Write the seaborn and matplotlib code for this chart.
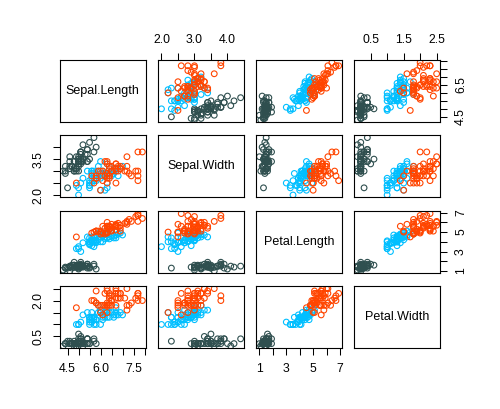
import numpy as np
import pandas as pd
import matplotlib
matplotlib.use('Agg')
import matplotlib.pyplot as plt
import seaborn as sns

# iris measurements, rows 1-150 (setosa, versicolor, virginica)
sepal_length = [5.1, 4.9, 4.7, 4.6, 5.0, 5.4, 4.6, 5.0, 4.4, 4.9, 5.4, 4.8, 4.8, 4.3, 5.8, 5.7, 5.4, 5.1, 5.7, 5.1,
                5.4, 5.1, 4.6, 5.1, 4.8, 5.0, 5.0, 5.2, 5.2, 4.7, 4.8, 5.4, 5.2, 5.5, 4.9, 5.0, 5.5, 4.9, 4.4, 5.1,
                5.0, 4.5, 4.4, 5.0, 5.1, 4.8, 5.1, 4.6, 5.3, 5.0,
                7.0, 6.4, 6.9, 5.5, 6.5, 5.7, 6.3, 4.9, 6.6, 5.2, 5.0, 5.9, 6.0, 6.1, 5.6, 6.7, 5.6, 5.8, 6.2, 5.6,
                5.9, 6.1, 6.3, 6.1, 6.4, 6.6, 6.8, 6.7, 6.0, 5.7, 5.5, 5.5, 5.8, 6.0, 5.4, 6.0, 6.7, 6.3, 5.6, 5.5,
                5.5, 6.1, 5.8, 5.0, 5.6, 5.7, 5.7, 6.2, 5.1, 5.7,
                6.3, 5.8, 7.1, 6.3, 6.5, 7.6, 4.9, 7.3, 6.7, 7.2, 6.5, 6.4, 6.8, 5.7, 5.8, 6.4, 6.5, 7.7, 7.7, 6.0,
                6.9, 5.6, 7.7, 6.3, 6.7, 7.2, 6.2, 6.1, 6.4, 7.2, 7.4, 7.9, 6.4, 6.3, 6.1, 7.7, 6.3, 6.4, 6.0, 6.9,
                6.7, 6.9, 5.8, 6.8, 6.7, 6.7, 6.3, 6.5, 6.2, 5.9]
sepal_width = [3.5, 3.0, 3.2, 3.1, 3.6, 3.9, 3.4, 3.4, 2.9, 3.1, 3.7, 3.4, 3.0, 3.0, 4.0, 4.4, 3.9, 3.5, 3.8, 3.8,
               3.4, 3.7, 3.6, 3.3, 3.4, 3.0, 3.4, 3.5, 3.4, 3.2, 3.1, 3.4, 4.1, 4.2, 3.1, 3.2, 3.5, 3.6, 3.0, 3.4,
               3.5, 2.3, 3.2, 3.5, 3.8, 3.0, 3.8, 3.2, 3.7, 3.3,
               3.2, 3.2, 3.1, 2.3, 2.8, 2.8, 3.3, 2.4, 2.9, 2.7, 2.0, 3.0, 2.2, 2.9, 2.9, 3.1, 3.0, 2.7, 2.2, 2.5,
               3.2, 2.8, 2.5, 2.8, 2.9, 3.0, 2.8, 3.0, 2.9, 2.6, 2.4, 2.4, 2.7, 2.7, 3.0, 3.4, 3.1, 2.3, 3.0, 2.5,
               2.6, 3.0, 2.6, 2.3, 2.7, 3.0, 2.9, 2.9, 2.5, 2.8,
               3.3, 2.7, 3.0, 2.9, 3.0, 3.0, 2.5, 2.9, 2.5, 3.6, 3.2, 2.7, 3.0, 2.5, 2.8, 3.2, 3.0, 3.8, 2.6, 2.2,
               3.2, 2.8, 2.8, 2.7, 3.3, 3.2, 2.8, 3.0, 2.8, 3.0, 2.8, 3.8, 2.8, 2.8, 2.6, 3.0, 3.4, 3.1, 3.0, 3.1,
               3.1, 3.1, 2.7, 3.2, 3.3, 3.0, 2.5, 3.0, 3.4, 3.0]
petal_length = [1.4, 1.4, 1.3, 1.5, 1.4, 1.7, 1.4, 1.5, 1.4, 1.5, 1.5, 1.6, 1.4, 1.1, 1.2, 1.5, 1.3, 1.4, 1.7, 1.5,
                1.7, 1.5, 1.0, 1.7, 1.9, 1.6, 1.6, 1.5, 1.4, 1.6, 1.6, 1.5, 1.5, 1.4, 1.5, 1.2, 1.3, 1.4, 1.3, 1.5,
                1.3, 1.3, 1.3, 1.6, 1.9, 1.4, 1.6, 1.4, 1.5, 1.4,
                4.7, 4.5, 4.9, 4.0, 4.6, 4.5, 4.7, 3.3, 4.6, 3.9, 3.5, 4.2, 4.0, 4.7, 3.6, 4.4, 4.5, 4.1, 4.5, 3.9,
                4.8, 4.0, 4.9, 4.7, 4.3, 4.4, 4.8, 5.0, 4.5, 3.5, 3.8, 3.7, 3.9, 5.1, 4.5, 4.5, 4.7, 4.4, 4.1, 4.0,
                4.4, 4.6, 4.0, 3.3, 4.2, 4.2, 4.2, 4.3, 3.0, 4.1,
                6.0, 5.1, 5.9, 5.6, 5.8, 6.6, 4.5, 6.3, 5.8, 6.1, 5.1, 5.3, 5.5, 5.0, 5.1, 5.3, 5.5, 6.7, 6.9, 5.0,
                5.7, 4.9, 6.7, 4.9, 5.7, 6.0, 4.8, 4.9, 5.6, 5.8, 6.1, 6.4, 5.6, 5.1, 5.6, 6.1, 5.6, 5.5, 4.8, 5.4,
                5.6, 5.1, 5.1, 5.9, 5.7, 5.2, 5.0, 5.2, 5.4, 5.1]
petal_width = [0.2, 0.2, 0.2, 0.2, 0.2, 0.4, 0.3, 0.2, 0.2, 0.1, 0.2, 0.2, 0.1, 0.1, 0.2, 0.4, 0.4, 0.3, 0.3, 0.3,
               0.2, 0.4, 0.2, 0.5, 0.2, 0.2, 0.4, 0.2, 0.2, 0.2, 0.2, 0.4, 0.1, 0.2, 0.2, 0.2, 0.2, 0.1, 0.2, 0.2,
               0.3, 0.3, 0.2, 0.6, 0.4, 0.3, 0.2, 0.2, 0.2, 0.2,
               1.4, 1.5, 1.5, 1.3, 1.5, 1.3, 1.6, 1.0, 1.3, 1.4, 1.0, 1.5, 1.0, 1.4, 1.3, 1.4, 1.5, 1.0, 1.5, 1.1,
               1.8, 1.3, 1.5, 1.2, 1.3, 1.4, 1.4, 1.7, 1.5, 1.0, 1.1, 1.0, 1.2, 1.6, 1.5, 1.6, 1.5, 1.3, 1.3, 1.3,
               1.2, 1.4, 1.2, 1.0, 1.3, 1.2, 1.3, 1.3, 1.1, 1.3,
               2.5, 1.9, 2.1, 1.8, 2.2, 2.1, 1.7, 1.8, 1.8, 2.5, 2.0, 1.9, 2.1, 2.0, 2.4, 2.3, 1.8, 2.2, 2.3, 1.5,
               2.3, 2.0, 2.0, 1.8, 2.1, 1.8, 1.8, 1.8, 2.1, 1.6, 1.9, 2.0, 2.2, 1.5, 1.4, 2.3, 2.4, 1.8, 1.8, 2.1,
               2.4, 2.3, 1.9, 2.3, 2.5, 2.3, 1.9, 2.0, 2.3, 1.8]
species_names = ['setosa', 'versicolor', 'virginica']
species_colors = ['#2F4F4F', '#00BFFF', '#FF4500']
species = [s for s in species_names for _ in range(50)]

var_names = ['Sepal.Length', 'Sepal.Width', 'Petal.Length', 'Petal.Width']
var_ticks = [[4.5, 5.0, 5.5, 6.0, 6.5, 7.0, 7.5, 8.0],
             [2.0, 2.5, 3.0, 3.5, 4.0],
             [1, 2, 3, 4, 5, 6, 7],
             [0.5, 1.0, 1.5, 2.0, 2.5]]
# labels R kept on the x axes (bottom/top) and y axes (left/right)
x_labels = [['4.5', '', '', '6.0', '', '', '7.5', ''],
            ['2.0', '', '3.0', '', '4.0'],
            ['1', '', '3', '', '5', '', '7'],
            ['0.5', '', '1.5', '', '2.5']]
y_labels = [['4.5', '', '', '', '6.5', '', '', ''],
            ['2.0', '', '', '3.5', ''],
            ['1', '', '3', '', '5', '', '7'],
            ['0.5', '', '', '2.0', '']]

df = pd.DataFrame({'Sepal.Length': sepal_length, 'Sepal.Width': sepal_width,
                   'Petal.Length': petal_length, 'Petal.Width': petal_width,
                   'Species': species})

sns.set_style('white')
plt.rcParams['font.family'] = ['Liberation Sans', 'DejaVu Sans']

W, H = 500, 409
fig = plt.figure(figsize=(W / 100, H / 100), dpi=100)
col_left = [60, 158.3, 256.3, 354.3]
row_top = [60.3, 135.3, 211.3, 286.3]
pw, ph = 85.5, 62

# R pairs(): range extended by 4%
lims = []
for v in var_names:
    lo, hi = df[v].min(), df[v].max()
    pad = (hi - lo) * 0.04
    lims.append((lo - pad, hi + pad))

palette = dict(zip(species_names, species_colors))

for i in range(4):
    for j in range(4):
        ax = fig.add_axes([col_left[j] / W, 1 - (row_top[i] + ph) / H, pw / W, ph / H])
        if i == j:
            ax.text(0.5, 0.5, var_names[i], transform=ax.transAxes, ha='center', va='center',
                    fontsize=9, color='black')
        else:
            sns.scatterplot(data=df, x=var_names[j], y=var_names[i], hue='Species',
                            palette=palette, ax=ax, legend=False, s=17, marker='o')
            coll = ax.collections[0]
            fc = coll.get_facecolors()
            coll.set_edgecolors(fc)
            coll.set_facecolors('none')
            coll.set_linewidths(0.8)
        ax.set_xlim(lims[j])
        ax.set_ylim(lims[i])
        ax.set_xlabel('')
        ax.set_ylabel('')
        for sp in ax.spines.values():
            sp.set_color('black')
            sp.set_linewidth(0.8)
        ax.set_xticks(var_ticks[j], x_labels[j])
        ax.set_yticks(var_ticks[i], y_labels[i])
        show_top = i == 0 and j % 2 == 1
        show_bottom = i == 3 and j % 2 == 0
        show_left = j == 0 and i % 2 == 1
        show_right = j == 3 and i % 2 == 0
        ax.tick_params(axis='x', bottom=show_bottom, top=show_top,
                       labelbottom=show_bottom, labeltop=show_top,
                       length=5, width=0.75, pad=5.5, labelsize=8.8, colors='black')
        ax.tick_params(axis='y', left=show_left, right=show_right,
                       labelleft=show_left, labelright=show_right,
                       length=5, width=0.75, pad=6, labelsize=8.8, colors='black')
        for lab in ax.get_yticklabels():
            lab.set_rotation(90)
            lab.set_va('center')

fig.savefig('out.png', dpi=100, facecolor='white')
